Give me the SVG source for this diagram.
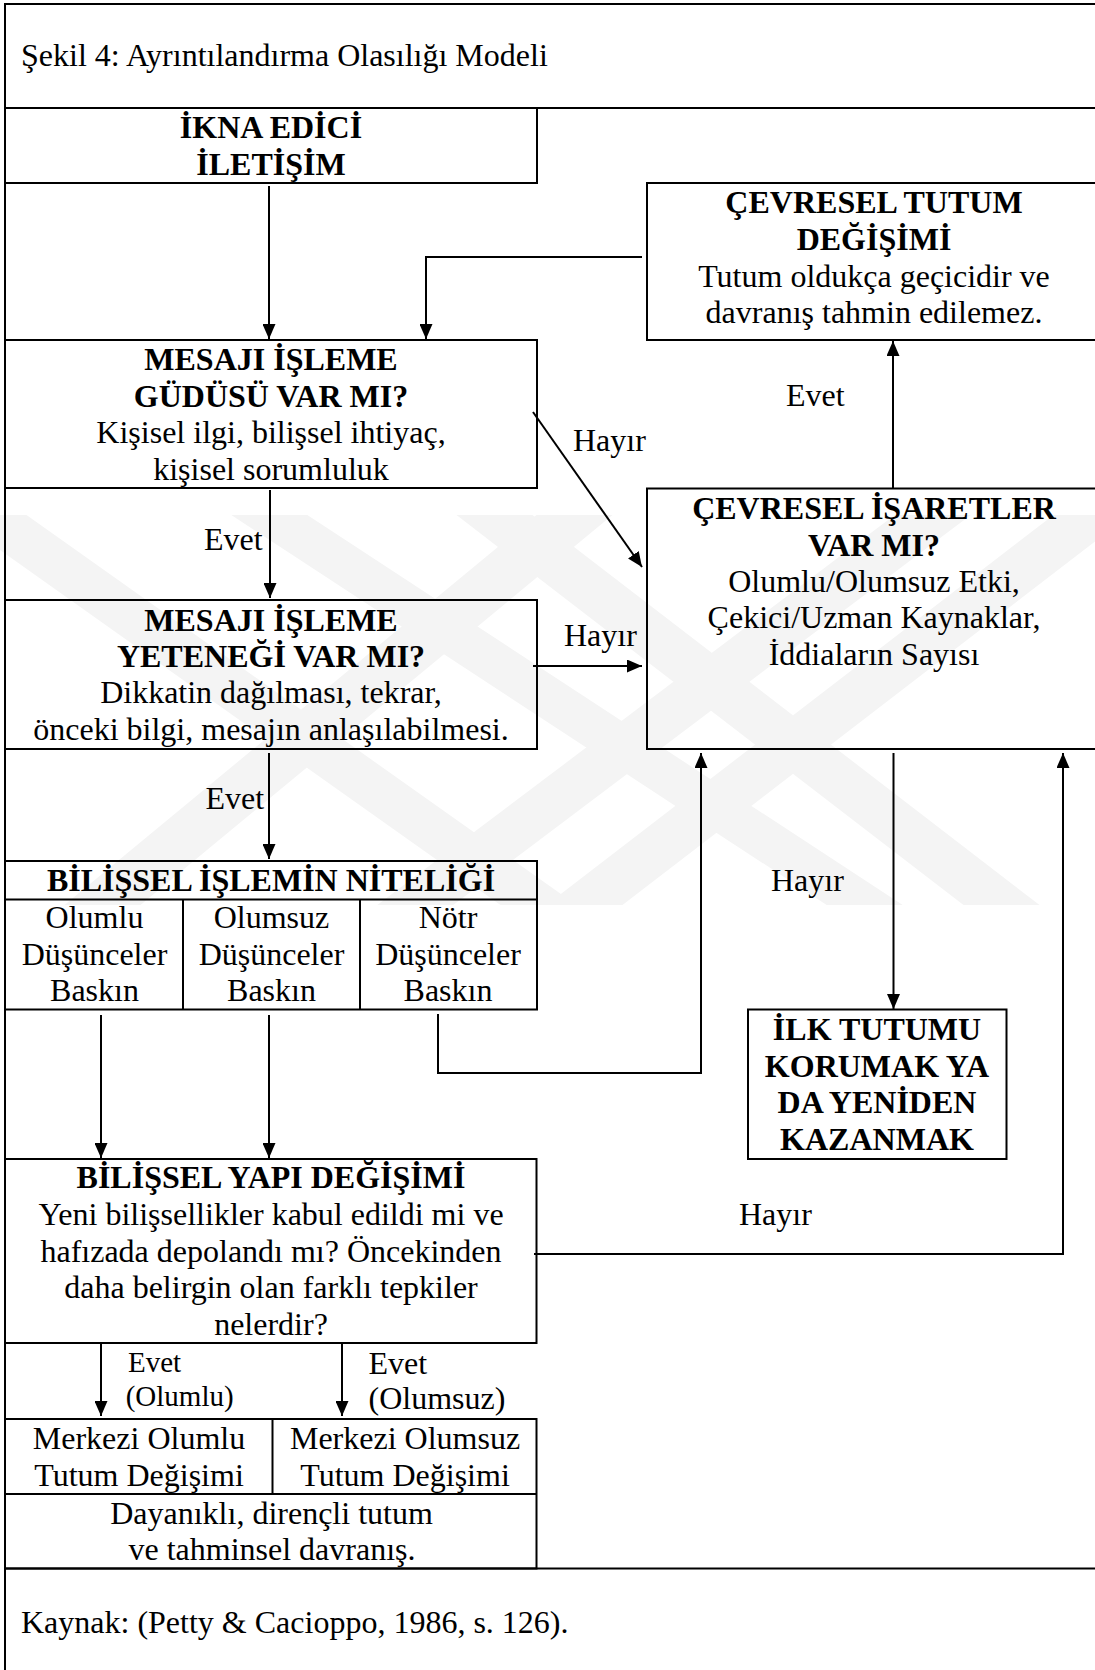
<svg xmlns="http://www.w3.org/2000/svg" width="1095" height="1670" viewBox="0 0 1095 1670">
<style>
.t{font-family:"Liberation Serif","Times New Roman",serif;font-size:32px;fill:#000}
.b{font-weight:bold}
.c{text-anchor:middle}
.box{fill:none;stroke:#000;stroke-width:2}
.con{fill:none;stroke:#000;stroke-width:2;marker-end:url(#ah)}
.wm{fill:#f4f4f4}
</style>
<defs>
<marker id="ah" viewBox="0 0 15 13" refX="15" refY="6.5" markerWidth="15" markerHeight="13" markerUnits="userSpaceOnUse" orient="auto">
<path d="M0,0 L15,6.5 L0,13 z" fill="#000"/>
</marker>
<clipPath id="wmclip"><rect x="0" y="515" width="1095" height="390"/></clipPath>
</defs>
<rect width="1095" height="1670" fill="#fff"/>
<g id="watermark" clip-path="url(#wmclip)">
<polygon class="wm" points="-49.5,515 26.5,515 576.5,905 500.5,905"/>
<polygon class="wm" points="536.5,515 612.5,515 140.5,905 64.5,905"/>
<polygon class="wm" points="231.3,515 307.3,515 902.7,905 826.7,905"/>
<polygon class="wm" points="894.7,515 970.7,515 453.3,905 377.3,905"/>
<polygon class="wm" points="1053.5,515 1129.5,515 622.5,905 546.5,905"/>
<polygon class="wm" points="456.5,515 532.5,515 1039.5,905 963.5,905"/>
</g>
<g id="frame">
<rect class="box" x="5" y="4" width="1100" height="1680"/>
<line class="box" x1="5" y1="108" x2="1095" y2="108"/>
<line class="box" x1="5" y1="1568.5" x2="1095" y2="1568.5"/>
<text class="t" x="21" y="66">Şekil 4: Ayrıntılandırma Olasılığı Modeli</text>
<text class="t" x="21" y="1633">Kaynak: (Petty &amp; Cacioppo, 1986, s. 126).</text>
</g>
<g id="ikna">
<rect class="box" x="5" y="108" width="532" height="75"/>
<text class="t b c" x="271" y="138">İKNA EDİCİ</text>
<text class="t b c" x="271" y="175">İLETİŞİM</text>
</g>
<g id="cevresel-tutum">
<rect class="box" x="647" y="183" width="460" height="157"/>
<text class="t b c" x="874" y="213">ÇEVRESEL TUTUM</text>
<text class="t b c" x="874" y="250">DEĞİŞİMİ</text>
<text class="t c" x="874" y="287">Tutum oldukça geçicidir ve</text>
<text class="t c" x="874" y="323">davranış tahmin edilemez.</text>
</g>
<g id="gudu">
<rect class="box" x="5" y="340" width="532" height="148"/>
<text class="t b c" x="271" y="369.5">MESAJI İŞLEME</text>
<text class="t b c" x="271" y="406.5">GÜDÜSÜ VAR MI?</text>
<text class="t c" x="271" y="443">Kişisel ilgi, bilişsel ihtiyaç,</text>
<text class="t c" x="271" y="479.5">kişisel sorumluluk</text>
</g>
<g id="cevresel-isaretler">
<rect class="box" x="647" y="488.5" width="460" height="260.5"/>
<text class="t b c" x="874" y="519.3">ÇEVRESEL İŞARETLER</text>
<text class="t b c" x="874" y="555.7">VAR MI?</text>
<text class="t c" x="874" y="592">Olumlu/Olumsuz Etki,</text>
<text class="t c" x="874" y="628.4">Çekici/Uzman Kaynaklar,</text>
<text class="t c" x="874" y="664.7">İddiaların Sayısı</text>
</g>
<g id="yetenek">
<rect class="box" x="5" y="600" width="532" height="149"/>
<text class="t b c" x="271" y="630.5">MESAJI İŞLEME</text>
<text class="t b c" x="271" y="666.8">YETENEĞİ VAR MI?</text>
<text class="t c" x="271" y="703.2">Dikkatin dağılması, tekrar,</text>
<text class="t c" x="271" y="739.5">önceki bilgi, mesajın anlaşılabilmesi.</text>
</g>
<g id="nitelik">
<rect class="box" x="5" y="861" width="532" height="148.5"/>
<line class="box" x1="5" y1="899.5" x2="537" y2="899.5"/>
<line class="box" x1="183" y1="899.5" x2="183" y2="1009.5"/>
<line class="box" x1="360" y1="899.5" x2="360" y2="1009.5"/>
<text class="t b c" x="271" y="891">BİLİŞSEL İŞLEMİN NİTELİĞİ</text>
<text class="t c" x="94.5" y="928">Olumlu</text>
<text class="t c" x="94.5" y="964.5">Düşünceler</text>
<text class="t c" x="94.5" y="1001">Baskın</text>
<text class="t c" x="271.5" y="928">Olumsuz</text>
<text class="t c" x="271.5" y="964.5">Düşünceler</text>
<text class="t c" x="271.5" y="1001">Baskın</text>
<text class="t c" x="448" y="928">Nötr</text>
<text class="t c" x="448" y="964.5">Düşünceler</text>
<text class="t c" x="448" y="1001">Baskın</text>
</g>
<g id="ilk-tutum">
<rect class="box" x="748" y="1009.5" width="258.5" height="149.5"/>
<text class="t b c" x="877" y="1040">İLK TUTUMU</text>
<text class="t b c" x="877" y="1076.7">KORUMAK YA</text>
<text class="t b c" x="877" y="1113.3">DA YENİDEN</text>
<text class="t b c" x="877" y="1150">KAZANMAK</text>
</g>
<g id="yapi">
<rect class="box" x="5" y="1159" width="531.5" height="184"/>
<text class="t b c" x="271" y="1188">BİLİŞSEL YAPI DEĞİŞİMİ</text>
<text class="t c" x="271" y="1224.8">Yeni bilişsellikler kabul edildi mi ve</text>
<text class="t c" x="271" y="1261.5">hafızada depolandı mı? Öncekinden</text>
<text class="t c" x="271" y="1298.3">daha belirgin olan farklı tepkiler</text>
<text class="t c" x="271" y="1335">nelerdir?</text>
</g>
<g id="merkezi">
<rect class="box" x="5" y="1419" width="531.5" height="149.5"/>
<line class="box" x1="5" y1="1494" x2="536.5" y2="1494"/>
<line class="box" x1="272.5" y1="1419" x2="272.5" y2="1494"/>
<text class="t c" x="139" y="1449">Merkezi Olumlu</text>
<text class="t c" x="139" y="1485.5">Tutum Değişimi</text>
<text class="t c" x="405" y="1449">Merkezi Olumsuz</text>
<text class="t c" x="405" y="1485.5">Tutum Değişimi</text>
<text class="t c" x="271.5" y="1523.5">Dayanıklı, dirençli tutum</text>
<text class="t c" x="272" y="1560">ve tahminsel davranış.</text>
</g>
<g id="connectors">
<line class="con" x1="269" y1="186" x2="269" y2="339"/>
<polyline class="con" points="642,257 426,257 426,339"/>
<line class="con" x1="533" y1="412" x2="642" y2="567"/>
<line class="con" x1="270" y1="490" x2="270" y2="598"/>
<line class="con" x1="533" y1="666" x2="642" y2="666"/>
<line class="con" x1="893" y1="488" x2="893" y2="341"/>
<line class="con" x1="269" y1="753" x2="269" y2="859"/>
<line class="con" x1="893.5" y1="753" x2="893.5" y2="1009"/>
<line class="con" x1="101" y1="1015" x2="101" y2="1158"/>
<line class="con" x1="269" y1="1015" x2="269" y2="1158"/>
<polyline class="con" points="438,1014 438,1073 701,1073 701,753"/>
<polyline class="con" points="534,1254 1063,1254 1063,753"/>
<line class="con" x1="101" y1="1343" x2="101" y2="1416"/>
<line class="con" x1="342" y1="1343" x2="342" y2="1416"/>
</g>
<g id="labels">
<text class="t" x="573" y="451">Hayır</text>
<text class="t" x="786" y="406">Evet</text>
<text class="t" x="564" y="646">Hayır</text>
<text class="t" x="204" y="550">Evet</text>
<text class="t" x="205.5" y="809">Evet</text>
<text class="t" x="771" y="891">Hayır</text>
<text class="t" x="739" y="1225">Hayır</text>
<text class="t" x="128" y="1372" style="font-size:29px">Evet</text>
<text class="t" x="125.7" y="1405.5" style="font-size:29px">(Olumlu)</text>
<text class="t" x="368.5" y="1374">Evet</text>
<text class="t" x="368.5" y="1409">(Olumsuz)</text>
</g>
</svg>
